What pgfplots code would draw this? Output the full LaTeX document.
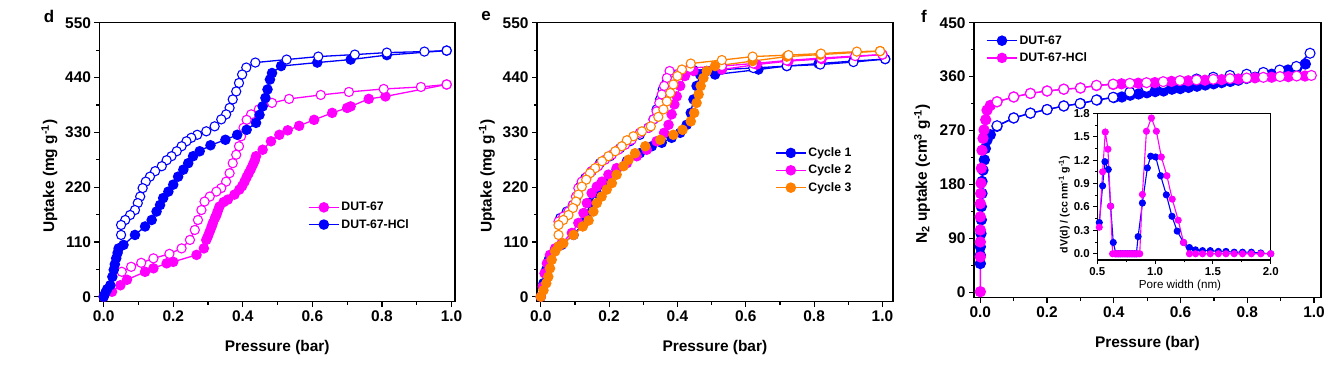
\documentclass[border=0pt]{standalone}
\usepackage{pgfplots}
\pgfplotsset{compat=1.18}
\usepackage{fontspec}
\setmainfont{Liberation Sans}
\definecolor{cb}{RGB}{0,0,255}
\definecolor{cm}{RGB}{255,0,255}
\definecolor{co}{RGB}{255,128,0}
\newcommand{\fs}[1]{\fontsize{#1}{#1}\selectfont}
\pgfplotsset{
  panel/.style={
    scale only axis, clip=false, anchor=south west,
    axis line style={line width=1.6bp},
    tick style={line width=1.2bp, black},
    tick align=outside, xtick pos=left, ytick pos=left,
    major tick length=5bp, minor tick length=3bp,
    /pgf/number format/assume math mode=true,
    ticklabel style={font=\bfseries\fs{15.5}},
    minor x tick num=1, minor y tick num=1,
    xtick={0,0.2,0.4,0.6,0.8,1.0},
    x tick label style={/pgf/number format/.cd,fixed,fixed zerofill,precision=1},
    xlabel={Pressure (bar)},
    every axis x label/.style={at={(axis description cs:0.5,0)}, anchor=center, yshift=-46bp, font=\bfseries\fs{15.5}},
    legend cell align=left,
    legend image code/.code={\draw[mark repeat=2,mark phase=2] plot coordinates {(0bp,0bp)(15bp,0bp)(30bp,0bp)};},
  },
  ylab/.style={every axis y label/.style={at={(axis description cs:0,0.5)}, xshift=#1, yshift=-14bp, rotate=90, anchor=center, font=\bfseries\fs{15.5}}},
  ads/.style={color=#1, line width=1.3bp, mark=*, mark size=4.6bp, mark options={solid, fill=#1, draw=#1}},
  des/.style={color=#1, line width=1.3bp, mark=*, mark size=4.6bp, mark options={solid, fill=white, draw=#1, line width=1.1bp}},
  adsi/.style={color=#1, line width=1.1bp, mark=*, mark size=3bp, mark options={solid, fill=#1, draw=#1}},
}
\begin{document}
\begin{tikzpicture}
\path[use as bounding box] (0,0) rectangle (1336bp,368bp);
% ---------------- panel d ----------------
\begin{axis}[panel, ylab=-50bp, at={(99.5bp,66.3bp)}, width=355.5bp, height=279bp,
  xmin=-0.012, xmax=1.01, ymin=-10, ymax=550, ytick={0,110,220,330,440,550},
  ylabel={Uptake (mg g\textsuperscript{-1})},
  legend style={draw=none, fill=none, inner sep=0pt, font=\bfseries\fs{12.3}, at={(0.5865,0.307)}, anchor=west, row sep=3bp}]
\addlegendimage{ads=cm}\addlegendentry{DUT-67}
\addlegendimage{ads=cb}\addlegendentry{DUT-67-HCl}
\addplot[ads=cm, forget plot] coordinates {(0,0)(0.024,10)(0.048,23)(0.067,34)(0.119,50)(0.143,57)(0.181,67)(0.2,70)(0.267,84)(0.288,97)(0.295,114)(0.3,122)(0.305,131)(0.31,140)(0.314,148)(0.32,158)(0.324,164)(0.328,172)(0.333,181)(0.345,190)(0.357,195)(0.376,205)(0.39,215)(0.398,222)(0.405,231)(0.411,240)(0.417,248)(0.423,256)(0.429,265)(0.434,273)(0.438,282)(0.457,295)(0.481,312)(0.505,325)(0.529,334)(0.562,343)(0.605,355)(0.657,369)(0.7,379)(0.71,382)(0.762,397)(0.81,402)(0.986,426)};
\addplot[des=cm, forget plot] coordinates {(0.986,426)(0.912,421)(0.805,417)(0.705,411)(0.624,405)(0.533,397)(0.484,389)(0.446,376)(0.424,366)(0.411,355)(0.402,339)(0.395,322)(0.389,302)(0.381,285)(0.371,268)(0.362,248)(0.352,231)(0.338,218)(0.324,211)(0.305,201)(0.29,191)(0.281,174)(0.271,154)(0.262,134)(0.248,114)(0.224,97)(0.189,86)(0.143,77)(0.108,68)(0.079,60)(0.052,50)};
\addplot[ads=cb, forget plot] coordinates {(0,0)(0.005,8)(0.01,15)(0.019,23)(0.025,40)(0.029,54)(0.032,65)(0.036,77)(0.04,88)(0.043,97)(0.057,104)(0.09,124)(0.119,141)(0.138,154)(0.152,171)(0.162,184)(0.171,198)(0.186,211)(0.2,225)(0.214,241)(0.229,255)(0.243,268)(0.257,282)(0.276,292)(0.307,304)(0.35,315)(0.384,325)(0.411,335)(0.438,349)(0.448,365)(0.457,382)(0.465,399)(0.471,416)(0.478,436)(0.484,449)(0.51,463)(0.614,470)(0.71,476)(0.814,485)(0.986,494)};
\addplot[des=cb, forget plot] coordinates {(0.986,494)(0.922,492)(0.814,490)(0.722,486)(0.617,482)(0.526,476)(0.436,470)(0.41,460)(0.398,446)(0.389,429)(0.381,412)(0.371,396)(0.362,379)(0.352,366)(0.338,356)(0.319,342)(0.295,332)(0.269,325)(0.252,319)(0.238,312)(0.224,302)(0.21,292)(0.195,282)(0.181,274)(0.167,262)(0.148,252)(0.133,241)(0.121,231)(0.112,218)(0.105,201)(0.098,188)(0.09,174)(0.076,164)(0.062,154)(0.05,144)(0.05,124)};
\end{axis}
\node[font=\bfseries\fs{17}] at (49bp,352bp) {d};
% ---------------- panel e ----------------
\begin{axis}[panel, ylab=-50bp, at={(537bp,66.3bp)}, width=355.7bp, height=279bp,
  xmin=-0.011, xmax=1.03, ymin=-10, ymax=550, ytick={0,110,220,330,440,550},
  ylabel={Uptake (mg g\textsuperscript{-1})},
  legend style={draw=none, fill=none, inner sep=0pt, font=\bfseries\fs{12.3}, at={(0.669,0.471)}, anchor=west, row sep=3bp}]
\addlegendimage{ads=cb}\addlegendentry{Cycle 1}
\addlegendimage{ads=cm}\addlegendentry{Cycle 2}
\addlegendimage{ads=co}\addlegendentry{Cycle 3}
% cycle 1
\addplot[ads=cb, forget plot] coordinates {(0,0)(0.008,27)(0.016,54)(0.025,77)(0.042,94)(0.061,104)(0.096,124)(0.125,148)(0.135,165)(0.144,188)(0.164,208)(0.193,228)(0.222,255)(0.252,272)(0.29,288)(0.325,302)(0.354,309)(0.383,319)(0.408,329)(0.427,345)(0.439,369)(0.447,396)(0.456,423)(0.466,446)(0.486,453)(0.51,446)(0.637,456)(0.72,463)(0.813,468)(0.915,473)(1.008,477)};
\addplot[des=cb, forget plot] coordinates {(1.008,477)(0.915,471)(0.818,466)(0.72,463)(0.622,459)(0.53,456)(0.447,455)(0.379,449)(0.369,432)(0.357,416)(0.349,396)(0.339,376)(0.33,356)(0.315,339)(0.29,325)(0.261,312)(0.232,298)(0.203,282)(0.173,268)(0.149,252)(0.13,238)(0.115,221)(0.105,201)(0.094,184)(0.076,171)(0.057,158)};
% cycle 2
\addplot[ads=cm, forget plot] coordinates {(0,0)(0.006,20)(0.011,47)(0.018,67)(0.027,84)(0.042,97)(0.061,107)(0.091,128)(0.11,148)(0.125,168)(0.135,188)(0.149,208)(0.164,221)(0.179,231)(0.198,245)(0.222,258)(0.252,268)(0.281,282)(0.31,295)(0.339,312)(0.361,329)(0.374,345)(0.383,366)(0.391,386)(0.398,402)(0.408,423)(0.422,443)(0.447,453)(0.53,456)(0.632,466)(0.725,473)(0.822,477)(1.0,486)};
\addplot[des=cm, forget plot] coordinates {(1.0,486)(0.92,483)(0.82,479)(0.72,474)(0.622,468)(0.53,463)(0.437,459)(0.377,453)(0.369,439)(0.361,423)(0.354,406)(0.347,389)(0.339,372)(0.33,356)(0.315,339)(0.29,329)(0.266,315)(0.247,305)(0.227,295)(0.208,285)(0.188,275)(0.168,262)(0.149,252)(0.135,241)(0.12,231)(0.11,218)(0.103,201)(0.094,184)(0.081,171)(0.066,161)(0.052,151)};
% cycle 3
\addplot[ads=co, forget plot] coordinates {(0,0)(0.008,13)(0.016,27)(0.022,40)(0.027,57)(0.032,74)(0.042,91)(0.052,101)(0.066,107)(0.096,124)(0.123,141)(0.14,153)(0.154,171)(0.164,188)(0.178,201)(0.193,215)(0.208,228)(0.222,245)(0.242,262)(0.257,275)(0.276,288)(0.306,302)(0.35,315)(0.388,325)(0.415,335)(0.439,352)(0.449,369)(0.456,389)(0.462,406)(0.468,423)(0.476,439)(0.486,453)(0.51,463)(0.62,473)(0.72,482)(0.818,486)(0.993,493)};
\addplot[des=co, forget plot] coordinates {(0.993,493)(0.925,492)(0.82,488)(0.725,485)(0.62,482)(0.53,475)(0.439,468)(0.413,456)(0.4,443)(0.388,426)(0.379,409)(0.369,392)(0.359,376)(0.344,361)(0.322,342)(0.296,332)(0.271,322)(0.252,314)(0.237,302)(0.218,292)(0.198,282)(0.179,272)(0.159,258)(0.144,248)(0.133,235)(0.12,221)(0.11,205)(0.103,191)(0.094,178)(0.081,164)(0.066,154)(0.052,144)(0.052,124)};
\end{axis}
\node[font=\bfseries\fs{17}] at (486bp,352bp) {e};
% ---------------- panel f ----------------
\begin{axis}[panel, ylab=-52bp, at={(974bp,70.3bp)}, width=346.7bp, height=275bp,
  xmin=-0.019, xmax=1.02, ymin=-9, ymax=450, ytick={0,90,180,270,360,450},
  ylabel={N\textsubscript{2} uptake (cm\textsuperscript{3} g\textsuperscript{-1})},
  legend style={draw=none, fill=none, inner sep=0pt, font=\bfseries\fs{12.3}, at={(0.035,0.903)}, anchor=west, row sep=3bp}]
\addlegendimage{ads=cb}\addlegendentry{DUT-67}
\addlegendimage{ads=cm}\addlegendentry{DUT-67-HCl}
\addplot[ads=cb, mark size=5bp, forget plot] coordinates {(0,48)(0,62)(0,76)(0.002,98)(0.003,121)(0.003,143)(0.005,165)(0.005,185)(0.008,204)(0.012,221)(0.015,240)(0.02,254)(0.03,263)(0.05,277)(0.1,291)(0.15,299)(0.2,305)(0.25,311)(0.3,315)(0.35,321)(0.4,325)(0.424,326)(0.449,329)(0.474,331)(0.499,333)(0.524,335)(0.549,336)(0.574,339)(0.599,340)(0.624,342)(0.649,344)(0.674,346)(0.699,348)(0.723,350)(0.749,352)(0.773,354)(0.798,357)(0.823,359)(0.848,361)(0.873,364)(0.898,367)(0.922,371)(0.948,374)(0.974,381)};
\addplot[des=cb, mark size=5bp, forget plot] coordinates {(0.988,399)(0.947,377)(0.897,371)(0.848,367)(0.798,364)(0.748,362)(0.698,359)(0.648,356)(0.598,352)(0.548,348)(0.498,342)(0.448,334)(0.398,325.5)(0.348,321)(0.299,315)(0.25,311)(0.2,305)(0.15,299)(0.1,291)(0.05,278)};
\addplot[ads=cm, mark size=5bp, forget plot] coordinates {(0,1)(0,59)(0,84)(0,104)(0,126)(0,148)(0.001,165)(0.002,182)(0.003,207)(0.005,237)(0.008,257)(0.011,271)(0.016,288)(0.02,304)(0.03,312)(0.05,318)(0.1,326)(0.15,332)(0.2,336)(0.25,339)(0.3,341)(0.348,345)(0.398,347)(0.423,348)(0.473,349)(0.523,350)(0.573,352)(0.623,353)(0.673,354)(0.723,355)(0.773,356)(0.823,358)(0.873,359)(0.923,360)(0.973,361)};
\addplot[des=cm, mark size=5bp, forget plot] coordinates {(0.992,362)(0.948,361)(0.898,360)(0.848,358.8)(0.798,357.7)(0.748,356.6)(0.698,355.5)(0.648,354.4)(0.598,353.3)(0.548,351.6)(0.498,349.9)(0.448,348.8)(0.398,347.5)(0.348,345.5)(0.3,341)(0.25,339)(0.2,336)(0.15,332)(0.1,326)(0.05,318)};
\end{axis}
\node[font=\bfseries\fs{17}] at (924bp,352bp) {f};
% ---------------- inset ----------------
\begin{axis}[scale only axis, clip=false, anchor=south west, at={(1097.3bp,108bp)}, width=173.4bp, height=146.7bp,
  axis background/.style={fill=white},
  axis line style={line width=1.3bp},
  tick style={line width=1bp, black}, tick align=outside, xtick pos=left, ytick pos=left,
  major tick length=4bp, minor tick length=2.5bp,
  /pgf/number format/assume math mode=true,
  ticklabel style={font=\bfseries\fs{11.5}},
  xmin=0.5, xmax=2.0, ymin=-0.08, ymax=1.8,
  xtick={0.5,1.0,1.5,2.0}, ytick={0,0.3,0.6,0.9,1.2,1.5,1.8},
  minor x tick num=1, minor y tick num=1,
  xticklabel style={/pgf/number format/.cd,fixed,fixed zerofill,precision=1},
  yticklabel style={/pgf/number format/.cd,fixed,fixed zerofill,precision=1},
  xlabel={Pore width (nm)},
  ylabel={dV(d) / (cc nm\textsuperscript{-1} g\textsuperscript{-1})},
  every axis x label/.style={at={(axis description cs:0.5,0)}, anchor=center, yshift=-25bp, xshift=-4bp, font=\fs{11.7}},
  every axis y label/.style={at={(axis description cs:0,0.5)}, xshift=-33bp, yshift=-18bp, rotate=90, anchor=center, font=\bfseries\fs{10.6}},
]
\addplot[adsi=cb] coordinates {(0.517,0.40)(0.546,0.87)(0.566,1.18)(0.595,1.08)(0.615,0.61)(0.638,0.145)(0.661,0)(0.681,0)(0.701,0)(0.721,0)(0.741,0)(0.761,0)(0.781,0)(0.801,0)(0.821,0)(0.838,0)(0.853,0.22)(0.89,0.65)(0.933,1.10)(0.962,1.25)(1.005,1.24)(1.048,1.0)(1.097,0.755)(1.146,0.48)(1.191,0.29)(1.246,0.145)(1.297,0.08)(1.349,0.05)(1.41,0.04)(1.477,0.04)(1.547,0.03)(1.613,0.03)(1.684,0.02)(1.756,0.02)(1.833,0.02)(1.914,0.01)(2.0,0.0)};
\addplot[adsi=cm] coordinates {(0.517,0.34)(0.546,1.05)(0.569,1.56)(0.592,1.34)(0.615,0.61)(0.632,0)(0.652,0)(0.672,0)(0.692,0)(0.712,0)(0.732,0)(0.752,0)(0.772,0)(0.792,0)(0.812,0)(0.832,0)(0.85,0)(0.867,0)(0.89,0.76)(0.925,1.57)(0.968,1.74)(1.011,1.57)(1.054,1.24)(1.102,1.0)(1.148,0.70)(1.2,0.43)(1.246,0.145)(1.297,0)(1.35,0)(1.41,0)(1.477,0)(1.547,0)(1.613,0)(1.684,0)(1.756,0)(1.833,0)(1.914,0)(2.0,0)};
\end{axis}
\end{tikzpicture}
\end{document}
